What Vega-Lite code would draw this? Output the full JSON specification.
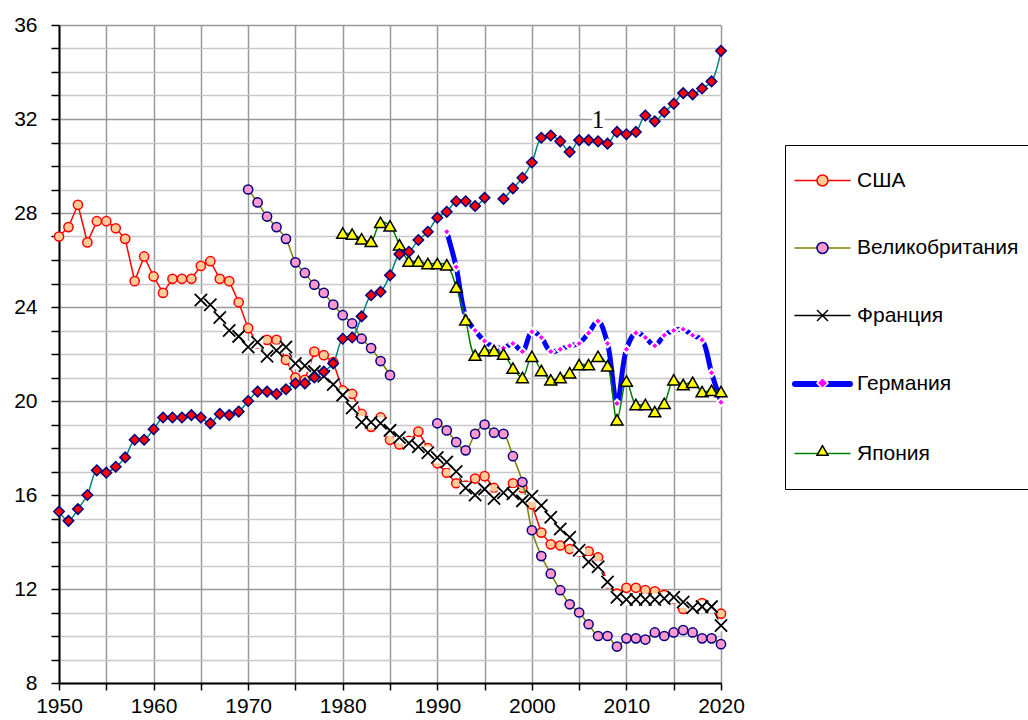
{
"$schema":"https://vega.github.io/schema/vega-lite/v6.json",
"width":662,"height":658,
"autosize":{"type":"none"},
"padding":{"left":59,"top":25,"right":307,"bottom":37},
"background":"white",
"config":{"view":{"stroke":null},"font":"Liberation Sans",
 "legend":{"orient":"none","legendX":726,"legendY":120,"padding":25,"labelFont":"Liberation Sans","labelFontSize":21,"labelColor":"#000000","symbolSize":121,"symbolOffset":2,"labelOffset":24,"rowPadding":45.5,"symbolStrokeWidth":1.5,"labelLimit":400}},
"data":{"values":[
{"year":1950,"США":27.0,"1":15.3},
{"year":1951,"США":27.4,"1":14.9},
{"year":1952,"США":28.35,"1":15.4},
{"year":1953,"США":26.75,"1":16.0},
{"year":1954,"США":27.65,"1":17.05},
{"year":1955,"США":27.65,"1":16.95},
{"year":1956,"США":27.35,"1":17.2},
{"year":1957,"США":26.9,"1":17.6},
{"year":1958,"США":25.1,"1":18.35},
{"year":1959,"США":26.15,"1":18.35},
{"year":1960,"США":25.3,"1":18.8},
{"year":1961,"США":24.6,"1":19.3},
{"year":1962,"США":25.2,"1":19.3},
{"year":1963,"США":25.2,"1":19.3},
{"year":1964,"США":25.2,"1":19.4},
{"year":1965,"США":25.75,"Франция":24.3,"1":19.3},
{"year":1966,"США":25.95,"Франция":24.1,"1":19.05},
{"year":1967,"США":25.2,"Франция":23.55,"1":19.45},
{"year":1968,"США":25.1,"Франция":23.0,"1":19.4},
{"year":1969,"США":24.2,"Франция":22.75,"1":19.55},
{"year":1970,"США":23.1,"Великобритания":29.0,"Франция":22.3,"1":20.0},
{"year":1971,"США":22.45,"Великобритания":28.45,"Франция":22.5,"1":20.4},
{"year":1972,"США":22.6,"Великобритания":27.85,"Франция":21.9,"1":20.4},
{"year":1973,"США":22.6,"Великобритания":27.4,"Франция":22.15,"1":20.3},
{"year":1974,"США":21.75,"Великобритания":26.9,"Франция":22.3,"1":20.5},
{"year":1975,"США":21.0,"Великобритания":25.9,"Франция":21.6,"1":20.75},
{"year":1976,"США":20.9,"Великобритания":25.45,"Франция":21.5,"1":20.75},
{"year":1977,"США":22.1,"Великобритания":24.95,"Франция":21.25,"1":21.0},
{"year":1978,"США":21.95,"Великобритания":24.6,"Франция":21.05,"1":21.25},
{"year":1979,"США":21.65,"Великобритания":24.1,"Франция":20.7,"1":21.6},
{"year":1980,"США":20.45,"Великобритания":23.65,"Франция":20.25,"Япония":27.15,"1":22.65},
{"year":1981,"США":20.3,"Великобритания":23.3,"Франция":19.7,"Япония":27.1,"1":22.7},
{"year":1982,"США":19.45,"Великобритания":22.65,"Франция":19.1,"Япония":26.9,"1":23.6},
{"year":1983,"США":18.9,"Великобритания":22.25,"Франция":19.1,"Япония":26.8,"1":24.5},
{"year":1984,"США":19.3,"Великобритания":21.7,"Франция":19.05,"Япония":27.6,"1":24.65},
{"year":1985,"США":18.35,"Великобритания":21.1,"Франция":18.75,"Япония":27.45,"1":25.35},
{"year":1986,"США":18.15,"Франция":18.45,"Япония":26.65,"1":26.25},
{"year":1987,"США":18.3,"Франция":18.2,"Япония":25.95,"1":26.35},
{"year":1988,"США":18.7,"Франция":18.05,"Япония":25.95,"1":26.85},
{"year":1989,"США":18.0,"Франция":17.8,"Япония":25.85,"1":27.2},
{"year":1990,"США":17.35,"Великобритания":19.05,"Франция":17.6,"Япония":25.85,"1":27.8},
{"year":1991,"США":16.95,"Великобритания":18.75,"Франция":17.4,"Германия":27.2,"Япония":25.8,"1":28.05},
{"year":1992,"США":16.5,"Великобритания":18.25,"Франция":17.0,"Германия":25.7,"Япония":24.85,"1":28.5},
{"year":1993,"США":16.4,"Великобритания":17.9,"Франция":16.3,"Германия":23.6,"Япония":23.45,"1":28.5},
{"year":1994,"США":16.7,"Великобритания":18.6,"Франция":16.0,"Германия":23.0,"Япония":21.95,"1":28.3},
{"year":1995,"США":16.8,"Великобритания":19.0,"Франция":16.25,"Германия":22.55,"Япония":22.15,"1":28.65},
{"year":1996,"США":16.3,"Великобритания":18.65,"Франция":15.85,"Германия":22.3,"Япония":22.15},
{"year":1997,"США":16.1,"Великобритания":18.6,"Франция":16.1,"Германия":22.25,"Япония":22.0,"1":28.6},
{"year":1998,"США":16.5,"Великобритания":17.65,"Франция":16.05,"Германия":22.45,"Япония":21.4,"1":29.05},
{"year":1999,"США":16.3,"Великобритания":16.55,"Франция":15.75,"Германия":22.1,"Япония":21.0,"1":29.5},
{"year":2000,"США":15.6,"Великобритания":14.5,"Франция":15.95,"Германия":22.95,"Япония":21.9,"1":30.15},
{"year":2001,"США":14.4,"Великобритания":13.4,"Франция":15.55,"Германия":22.7,"Япония":21.3,"1":31.2},
{"year":2002,"США":13.9,"Великобритания":12.65,"Франция":15.05,"Германия":22.1,"Япония":20.9,"1":31.3},
{"year":2003,"США":13.85,"Великобритания":11.95,"Франция":14.55,"Германия":22.2,"Япония":21.0,"1":31.05},
{"year":2004,"США":13.7,"Великобритания":11.35,"Франция":14.2,"Германия":22.35,"Япония":21.2,"1":30.6},
{"year":2005,"США":13.6,"Великобритания":11.0,"Франция":13.65,"Германия":22.45,"Япония":21.55,"1":31.1},
{"year":2006,"США":13.6,"Великобритания":10.5,"Франция":13.15,"Германия":22.9,"Япония":21.55,"1":31.1},
{"year":2007,"США":13.35,"Великобритания":10.0,"Франция":12.95,"Германия":23.4,"Япония":21.9,"1":31.05},
{"year":2008,"США":12.25,"Великобритания":10.0,"Франция":12.3,"Германия":22.45,"Япония":21.5,"1":30.95},
{"year":2009,"США":11.8,"Великобритания":9.55,"Франция":11.65,"Германия":19.9,"Япония":19.2,"1":31.45},
{"year":2010,"США":12.05,"Великобритания":9.9,"Франция":11.55,"Германия":22.2,"Япония":20.85,"1":31.35},
{"year":2011,"США":12.05,"Великобритания":9.9,"Франция":11.55,"Германия":22.9,"Япония":19.85,"1":31.45},
{"year":2012,"США":11.95,"Великобритания":9.85,"Франция":11.55,"Германия":22.7,"Япония":19.85,"1":32.15},
{"year":2013,"США":11.9,"Великобритания":10.15,"Франция":11.55,"Германия":22.35,"Япония":19.55,"1":31.9},
{"year":2014,"США":11.75,"Великобритания":10.0,"Франция":11.6,"Германия":22.8,"Япония":19.9,"1":32.3},
{"year":2015,"США":11.6,"Великобритания":10.15,"Франция":11.65,"Германия":23.0,"Япония":20.9,"1":32.65},
{"year":2016,"США":11.15,"Великобритания":10.25,"Франция":11.45,"Германия":23.05,"Япония":20.7,"1":33.1},
{"year":2017,"США":11.2,"Великобритания":10.15,"Франция":11.2,"Германия":22.8,"Япония":20.8,"1":33.05},
{"year":2018,"США":11.4,"Великобритания":9.9,"Франция":11.25,"Германия":22.6,"Япония":20.4,"1":33.3},
{"year":2019,"США":11.25,"Великобритания":9.9,"Франция":11.25,"Германия":21.2,"Япония":20.45,"1":33.6},
{"year":2020,"США":10.95,"Великобритания":9.65,"Франция":10.45,"Германия":19.95,"Япония":20.4,"1":34.9}
]},
"transform":[{"fold":["США","Великобритания","Франция","Германия","Япония","1"],"as":["country","value"]}],
"encoding":{
 "x":{"field":"year","type":"quantitative","scale":{"domain":[1950,2020],"nice":false,"zero":false},
  "axis":{"title":null,"values":[1950,1955,1960,1965,1970,1975,1980,1985,1990,1995,2000,2005,2010,2015,2020],"format":"d","labelExpr":"datum.value % 10 === 0 ? datum.label : ''","labelFlush":false,"labelOverlap":false,"labelFont":"Liberation Sans","labelFontSize":21,"labelColor":"#000000","labelPadding":5,"tickSize":7,"tickColor":"#000000","tickWidth":1.5,"domainColor":"#000000","domainWidth":2,"grid":true,"gridColor":"#999999","gridWidth":1.5}},
 "y":{"field":"value","type":"quantitative","scale":{"domain":[8,36],"nice":false,"zero":false},
  "axis":{"title":null,"values":[8,9,10,11,12,13,14,15,16,17,18,19,20,21,22,23,24,25,26,27,28,29,30,31,32,33,34,35,36],"labelExpr":"datum.value % 4 === 0 ? datum.label : ''","labelOverlap":false,"labelFont":"Liberation Sans","labelFontSize":21,"labelColor":"#000000","labelPadding":14,"tickSize":8,"tickColor":"#000000","tickWidth":1.5,"domainColor":"#000000","domainWidth":2,"grid":true,"gridColor":{"condition":{"test":"datum.value % 4 === 0","value":"#999999"},"value":"#c8c8c8"},"gridWidth":1.5}}
},
"layer":[
 {"transform":[{"filter":"datum.country === 'США'"}],
  "mark":{"type":"line","strokeWidth":1.5,"invalid":"break-paths-show-domains"},
  "encoding":{"color":{"field":"country","type":"nominal","scale":{"domain":["США","Великобритания","Франция","Германия","Япония","1"],"range":["#ff0000","#808000","#000000","#0000ff","#008000","#008080"]},
   "legend":{"values":["США","Великобритания","Франция","Германия","Япония"],"title":null,"symbolType":"M-5,0H5","strokeColor":"#000000","labelExpr":"datum.label === 'Великобритания' ? '\u00a0Великобритания' : datum.label",
    "encode":{"symbols":{"update":{"strokeWidth":{"signal":"datum.value === 'Германия' ? 6 : 1.5"},"strokeCap":{"value":"round"}}}}}}}},
 {"transform":[{"filter":"datum.country === 'США'"}],
  "mark":{"type":"point","filled":true,"opacity":1,"size":85,"strokeWidth":1.5},
  "encoding":{
   "fill":{"field":"country","type":"nominal","scale":{"domain":["1","США","Великобритания","Франция","Германия","Япония"],"range":["#ff0000","#ffcc99","#ff99cc","#000000","#ff00ff","#ffff00"]},
    "legend":{"values":["США","Великобритания","Франция","Германия","Япония"],"title":null,"labelOpacity":0,
     "encode":{"symbols":{"update":{"strokeWidth":{"signal":"datum.value === 'Германия' ? 2 : datum.value === 'Франция' ? 1.8 : 1.5"},"size":{"signal":"datum.value === 'Франция' ? 150 : datum.value === 'Германия' ? 64 : datum.value === 'Япония' ? 144 : 85"}}}}}},
   "stroke":{"field":"country","type":"nominal","scale":{"domain":["1","США","Великобритания","Франция","Германия","Япония"],"range":["#000080","#ff0000","#000080","#000000","#ffffff","#000000"]},
    "legend":{"values":["США","Великобритания","Франция","Германия","Япония"],"title":null,"labelOpacity":0}},
   "shape":{"field":"country","type":"nominal","scale":{"domain":["1","США","Великобритания","Франция","Германия","Япония"],"range":["diamond","circle","circle","M-1,-1L1,1M-1,1L1,-1","diamond","triangle-up"]},
    "legend":{"values":["США","Великобритания","Франция","Германия","Япония"],"title":null,"labelOpacity":0}}}},
 {"transform":[{"filter":"datum.country === 'Великобритания'"}],
  "mark":{"type":"line","strokeWidth":1.5,"interpolate":"catmull-rom","invalid":"break-paths-show-domains"},
  "encoding":{"color":{"field":"country","type":"nominal"}}},
 {"transform":[{"filter":"datum.country === 'Великобритания'"}],
  "mark":{"type":"point","filled":true,"opacity":1,"size":85,"strokeWidth":1.5},
  "encoding":{"fill":{"field":"country","type":"nominal"},"stroke":{"field":"country","type":"nominal"},"shape":{"field":"country","type":"nominal"}}},
 {"transform":[{"filter":"datum.country === 'Франция'"}],
  "mark":{"type":"line","strokeWidth":1.2,"invalid":"break-paths-show-domains"},
  "encoding":{"color":{"field":"country","type":"nominal"}}},
 {"transform":[{"filter":"datum.country === 'Франция'"}],
  "mark":{"type":"point","shape":"square","filled":true,"opacity":1,"size":140,"fill":"#ffffff","strokeWidth":0}},
 {"transform":[{"filter":"datum.country === 'Франция'"}],
  "mark":{"type":"point","filled":true,"opacity":1,"size":150,"strokeWidth":1.8},
  "encoding":{"fill":{"field":"country","type":"nominal"},"stroke":{"field":"country","type":"nominal"},"shape":{"field":"country","type":"nominal"}}},
 {"transform":[{"filter":"datum.country === 'Германия'"}],
  "mark":{"type":"line","strokeWidth":5,"strokeCap":"round","interpolate":"catmull-rom","invalid":"break-paths-show-domains"},
  "encoding":{"color":{"field":"country","type":"nominal"}}},
 {"transform":[{"filter":"datum.country === 'Германия'"}],
  "mark":{"type":"point","filled":true,"opacity":1,"size":64,"strokeWidth":2},
  "encoding":{"fill":{"field":"country","type":"nominal"},"stroke":{"field":"country","type":"nominal"},"shape":{"field":"country","type":"nominal"}}},
 {"transform":[{"filter":"datum.country === 'Япония'"}],
  "mark":{"type":"line","strokeWidth":1.5,"interpolate":"catmull-rom","invalid":"break-paths-show-domains"},
  "encoding":{"color":{"field":"country","type":"nominal"}}},
 {"transform":[{"filter":"datum.country === 'Япония'"}],
  "mark":{"type":"point","filled":true,"opacity":1,"size":144,"strokeWidth":1.5},
  "encoding":{"fill":{"field":"country","type":"nominal"},"stroke":{"field":"country","type":"nominal"},"shape":{"field":"country","type":"nominal"}}},
 {"transform":[{"filter":"datum.country === '1'"}],
  "mark":{"type":"line","strokeWidth":1.5,"interpolate":"catmull-rom","invalid":"break-paths-show-domains"},
  "encoding":{"color":{"field":"country","type":"nominal"}}},
 {"transform":[{"filter":"datum.country === '1'"}],
  "mark":{"type":"point","filled":true,"opacity":1,"size":110,"strokeWidth":1.5},
  "encoding":{"fill":{"field":"country","type":"nominal"},"stroke":{"field":"country","type":"nominal"},"shape":{"field":"country","type":"nominal"}}},
 {"transform":[{"filter":"datum.country === '1' && datum.year === 2007"}],
  "mark":{"type":"text","text":"1","dy":-21,"font":"Liberation Serif","fontSize":25,"fill":"#ffffff","stroke":"#ffffff","strokeWidth":10,"strokeJoin":"round"}},
 {"transform":[{"filter":"datum.country === '1' && datum.year === 2007"}],
  "mark":{"type":"text","text":"1","dy":-21,"font":"Liberation Serif","fontSize":25,"fill":"#000000"}}
]
}
